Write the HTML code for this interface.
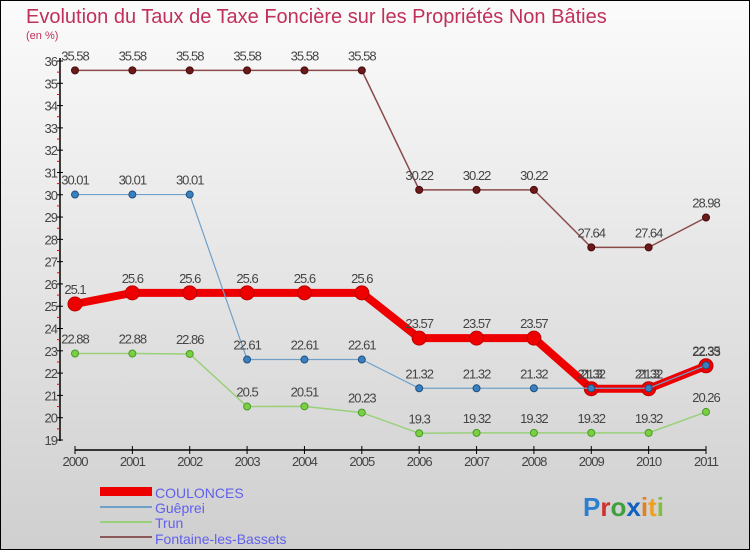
<!DOCTYPE html>
<html><head><meta charset="utf-8"><style>
body{margin:0;width:750px;height:550px;overflow:hidden}
svg{display:block;font-family:"Liberation Sans",sans-serif}
</style></head><body>
<svg id="c" width="750" height="550">
<defs><linearGradient id="bg" x1="0" y1="0" x2="0" y2="1"><stop offset="0" stop-color="#fbfbfb"/><stop offset="1" stop-color="#cfcfcf"/></linearGradient></defs>
<rect x="0.5" y="0.5" width="749" height="549" fill="url(#bg)" stroke="#000"/>
<text x="26" y="23" font-size="20" fill="#c0305a">Evolution du Taux de Taxe Foncière sur les Propriétés Non Bâties</text>
<text x="26" y="39" font-size="11" fill="#c0305a">(en %)</text>
<g id="axes"></g><g id="series"></g>
<g>
<rect x="100" y="487" width="52" height="9" fill="#e00"/>
<line x1="100" y1="507" x2="152" y2="507" stroke="#6fa0c8" stroke-width="2"/>
<line x1="100" y1="522" x2="152" y2="522" stroke="#9ad07a" stroke-width="2"/>
<line x1="100" y1="537" x2="152" y2="537" stroke="#8a5a5a" stroke-width="2"/>
<g font-size="14" fill="#6060ee">
<text x="155" y="498">COULONCES</text>
<text x="155" y="513">Guêprei</text>
<text x="155" y="528">Trun</text>
<text x="155" y="544">Fontaine-les-Bassets</text>
</g></g>
<g font-size="26" font-weight="bold">
<text x="583" y="516"><tspan fill="#2a7fd0">P</tspan><tspan fill="#d03030">r</tspan><tspan fill="#40a040">o</tspan><tspan fill="#1060c0">x</tspan><tspan fill="#e08020">i</tspan><tspan fill="#f0a020">t</tspan><tspan fill="#80c040">i</tspan></text></g>
</svg>
<script>
const years=["2000","2001","2002","2003","2004","2005","2006","2007","2008","2009","2010","2011"];
const yTicks=[19,20,21,22,23,24,25,26,27,28,29,30,31,32,33,34,35,36];
const coulonces=[25.1,25.6,25.6,25.6,25.6,25.6,23.57,23.57,23.57,21.3,21.3,22.33];
const coulLabels=["25.1","25.6","25.6","25.6","25.6","25.6","23.57","23.57","23.57","21.3","21.3","22.33"];
const gueprei=[30.01,30.01,30.01,22.61,22.61,22.61,21.32,21.32,21.32,21.32,21.32,22.35];
const guepLabels=["30.01","30.01","30.01","22.61","22.61","22.61","21.32","21.32","21.32","21.32","21.32","22.35"];
const trun=[22.88,22.88,22.86,20.5,20.51,20.23,19.3,19.32,19.32,19.32,19.32,20.26];
const trunLabels=["22.88","22.88","22.86","20.5","20.51","20.23","19.3","19.32","19.32","19.32","19.32","20.26"];
const fontaine=[35.58,35.58,35.58,35.58,35.58,35.58,30.22,30.22,30.22,27.64,27.64,28.98];
const fontLabels=["35.58","35.58","35.58","35.58","35.58","35.58","30.22","30.22","30.22","27.64","27.64","28.98"];
const NS="http://www.w3.org/2000/svg";
const X=i=>75+i*(706-75)/11;
const Y=v=>440-(v-19)*(440-61)/17;
function mk(t,a,p){const e=document.createElementNS(NS,t);for(const k in a)e.setAttribute(k,a[k]);p.appendChild(e);return e;}
const ax=document.getElementById('axes'),se=document.getElementById('series');
const ya=mk('line',{x1:60,y1:58,x2:60,y2:441,stroke:'#000','stroke-width':1.5},ax);


const xa=mk('line',{x1:75,y1:450,x2:706,y2:450,stroke:'#000','stroke-width':1.5},ax);


yTicks.forEach(v=>{
 mk('line',{x1:57,x2:63,y1:Y(v),y2:Y(v),stroke:'#000'},ax);
 if(v<36)mk('line',{x1:57,x2:60,y1:Y(v+0.5),y2:Y(v+0.5),stroke:'#e00'},ax);
 const t=mk('text',{x:57,y:Y(v)+5,'text-anchor':'end','font-size':13,fill:'#444','letter-spacing':'-1'},ax);
 t.textContent=v;
 
 
});
years.forEach((y,i)=>{
 mk('line',{x1:X(i),x2:X(i),y1:446,y2:454,stroke:'#000'},ax);
 const t=mk('text',{x:X(i),y:466,'text-anchor':'middle','font-size':13,fill:'#444','letter-spacing':'-1'},ax);
 t.textContent=y;
 
 
});
function series(vals,labs,name,col,w,r,dot,stroke){
 const g=mk('g',{},se);
 
 
 mk('polyline',{points:vals.map((v,i)=>X(i)+','+Y(v)).join(' '),fill:'none',stroke:col,'stroke-width':w,'stroke-linejoin':'round'},g);
 vals.forEach((v,i)=>{
  const c=mk('circle',{cx:X(i),cy:Y(v),r:r,fill:dot,stroke:stroke,'stroke-width':1},g);
  
  
  const t=mk('text',{x:X(i),y:Y(v)-10,'text-anchor':'middle','font-size':13,fill:'#444','letter-spacing':'-1'},g);
  t.textContent=labs[i];
  
  
 });
}
series(fontaine,fontLabels,'fontaine','#8a4a4a',1.5,3.5,'#6a1a1a','#4a0a0a');
series(trun,trunLabels,'trun','#9ad07a',1.5,3.5,'#7ad040','#4a9a2a');
series(coulonces,coulLabels,'coulonces','#e00',8,7,'#e00','#b00');
series(gueprei,guepLabels,'gueprei','#6fa0c8',1.2,3.5,'#3a80c0','#205080');
</script>
</body></html>
